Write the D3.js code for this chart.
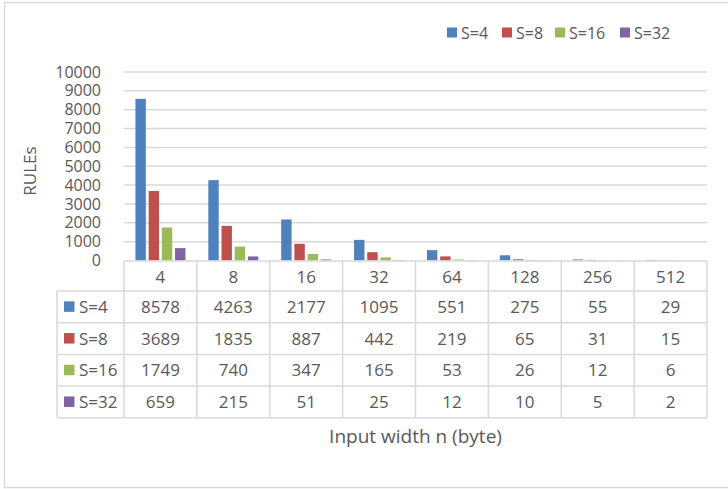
<!DOCTYPE html>
<html>
<head>
<meta charset="utf-8">
<script src="https://cdn.jsdelivr.net/npm/d3@7"></script>
<style>
  body { margin: 0; background: #fff; }
  svg text { font-family: "Open Sans", sans-serif; fill: #595959; }
</style>
</head>
<body>
<svg id="chart"></svg>
<script>
// data
var widths = ["4", "8", "16", "32", "64", "128", "256", "512"];
var seriesNames = ["S=4", "S=8", "S=16", "S=32"];
var s4 = [8578, 4263, 2177, 1095, 551, 275, 55, 29];
var s8 = [3689, 1835, 887, 442, 219, 65, 31, 15];
var s16 = [1749, 740, 347, 165, 53, 26, 12, 6];
var s32 = [659, 215, 51, 25, 12, 10, 5, 2];
var yTicks = [0, 1000, 2000, 3000, 4000, 5000, 6000, 7000, 8000, 9000, 10000];
var colors = ["#4F81BD", "#C0504D", "#9BBB59", "#8064A2"];

var allSeries = [s4, s8, s16, s32];

var W = 728, H = 489;
var svg = d3.select("#chart").attr("width", W).attr("height", H);

// chart frame
svg.append("rect")
    .attr("x", 4.5).attr("y", 2.5)
    .attr("width", 740).attr("height", 485)
    .attr("fill", "none")
    .attr("stroke", "#D9D9D9")
    .attr("stroke-width", 1.5);

var plotLeft = 124, plotRight = 707, plotTop = 72, plotBottom = 260.5;
var gridColor = "#D9D9D9";
var fs = 17;

var x = d3.scaleBand().domain(widths).range([plotLeft, plotRight]);
var y = d3.scaleLinear().domain([0, 10000]).range([plotBottom, plotTop]);

// gridlines
svg.append("g")
    .selectAll("line")
    .data(yTicks.slice(1))
    .enter()
    .append("line")
    .attr("x1", plotLeft).attr("x2", plotRight)
    .attr("y1", function(d) { return y(d); })
    .attr("y2", function(d) { return y(d); })
    .attr("stroke", gridColor)
    .attr("stroke-width", 1.5);

// y axis labels
var yAxis = d3.axisLeft(y).tickValues(yTicks).tickFormat(d3.format("d")).tickSize(0).tickPadding(0);
var yg = svg.append("g")
    .attr("transform", "translate(101,0)")
    .call(yAxis);
yg.select(".domain").remove();
yg.selectAll("text")
    .attr("font-size", 16)
    .attr("fill", "#595959")
    .style("font-family", "'Open Sans', sans-serif");

// bars
var barW = 10.4, barStep = 13.2;
var groupW = barW + barStep * 3;
allSeries.forEach(function(vals, si) {
    svg.append("g")
        .selectAll("rect")
        .data(vals)
        .enter()
        .append("rect")
        .attr("x", function(d, i) {
            return x(widths[i]) + (x.bandwidth() - groupW) / 2 + si * barStep;
        })
        .attr("y", function(d) { return y(d); })
        .attr("width", barW)
        .attr("height", function(d) { return plotBottom - y(d); })
        .attr("fill", colors[si]);
});

// data table
var rowTop = 261, headerH = 30, rowH = 31.7, tableLeft = 57;
var rowY = function(r) { return rowTop + headerH + r * rowH; };
var tbl = svg.append("g");

// horizontal lines
tbl.append("line")
    .attr("x1", plotLeft).attr("x2", plotRight)
    .attr("y1", rowTop).attr("y2", rowTop)
    .attr("stroke", gridColor).attr("stroke-width", 1.5);
for (var r = 0; r <= seriesNames.length; r++) {
    tbl.append("line")
        .attr("x1", tableLeft).attr("x2", plotRight)
        .attr("y1", rowY(r)).attr("y2", rowY(r))
        .attr("stroke", gridColor).attr("stroke-width", 1.5);
}
// vertical lines
tbl.append("line")
    .attr("x1", tableLeft).attr("x2", tableLeft)
    .attr("y1", rowY(0)).attr("y2", rowY(seriesNames.length))
    .attr("stroke", gridColor).attr("stroke-width", 1.5);
widths.forEach(function(w) {
    tbl.append("line")
        .attr("x1", x(w)).attr("x2", x(w))
        .attr("y1", rowTop).attr("y2", rowY(seriesNames.length))
        .attr("stroke", gridColor).attr("stroke-width", 1.5);
});
tbl.append("line")
    .attr("x1", plotRight).attr("x2", plotRight)
    .attr("y1", rowTop).attr("y2", rowY(seriesNames.length))
    .attr("stroke", gridColor).attr("stroke-width", 1.5);

// header labels
tbl.selectAll("text.cat")
    .data(widths)
    .enter()
    .append("text")
    .attr("class", "cat")
    .attr("x", function(d) { return x(d) + x.bandwidth() / 2; })
    .attr("y", rowTop + headerH / 2 + 1)
    .attr("dy", "0.35em")
    .attr("text-anchor", "middle")
    .attr("font-size", fs)
    .text(function(d) { return d; });

// rows
seriesNames.forEach(function(name, si) {
    var cy = rowY(si) + rowH / 2;
    tbl.append("rect")
        .attr("x", 64).attr("y", cy - 5.5)
        .attr("width", 10.5).attr("height", 10.5)
        .attr("fill", colors[si]);
    tbl.append("text")
        .attr("x", 79).attr("y", cy)
        .attr("dy", "0.35em")
        .attr("font-size", fs)
        .text(name);
    tbl.selectAll("text.v" + si)
        .data(allSeries[si])
        .enter()
        .append("text")
        .attr("class", "v" + si)
        .attr("x", function(d, i) { return x(widths[i]) + x.bandwidth() / 2; })
        .attr("y", cy)
        .attr("dy", "0.35em")
        .attr("text-anchor", "middle")
        .attr("font-size", fs)
        .text(function(d) { return d; });
});

// axis titles
svg.append("text")
    .attr("x", (plotLeft + plotRight) / 2)
    .attr("y", 443)
    .attr("text-anchor", "middle")
    .attr("font-size", 19)
    .text("Input width n (byte)");

svg.append("text")
    .attr("transform", "translate(36,171) rotate(-90)")
    .attr("text-anchor", "middle")
    .attr("font-size", 17)
    .text("RULEs");

// legend
var legendX = [447, 502, 555, 620];
var leg = svg.append("g");
seriesNames.forEach(function(name, i) {
    leg.append("rect")
        .attr("x", legendX[i]).attr("y", 27.5)
        .attr("width", 10).attr("height", 10)
        .attr("fill", colors[i]);
    leg.append("text")
        .attr("x", legendX[i] + 14)
        .attr("y", 33)
        .attr("dy", "0.35em")
        .attr("font-size", 16)
        .text(name);
});
</script>
</body>
</html>
